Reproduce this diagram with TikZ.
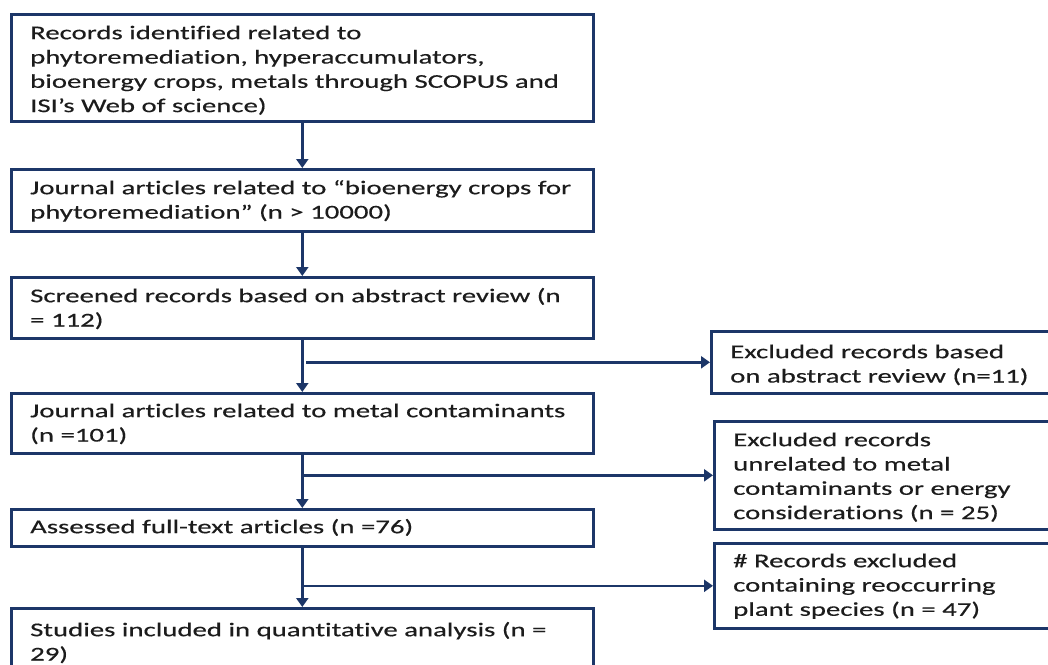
\documentclass[tikz,border=0pt]{standalone}
\usepackage{fontspec}
\setmainfont{Carlito}[FakeStretch=1.475,Ligatures=NoCommon,FakeBold=0.4]
\usetikzlibrary{arrows.meta,calc}
\definecolor{navy}{RGB}{28,54,104}
\definecolor{ink}{RGB}{28,28,28}
\newcommand{\topstrut}{\rule{0pt}{15pt}}
\begin{document}
\begin{tikzpicture}[x=1pt,y=-1pt,
  box/.style={draw=navy,line width=2.6pt,rectangle,inner sep=0pt,anchor=north west,fill=white},
  txt/.style={anchor=north west,inner sep=0pt,align=left,text=ink,
    font=\fontsize{19.5pt}{24.3pt}\selectfont},
  arr/.style={draw=navy,line width=2.6pt,-{Triangle[width=12pt,length=9pt]}}]
\useasboundingbox (0,0) rectangle (1048,664);
\clip (0,0) rectangle (1048,664);
\fill[white] (0,0) rectangle (1048,664);
% main column
\node[box,minimum width=582pt,minimum height=107pt] (b1) at (10,13) {};
\node[box,minimum width=582pt,minimum height=62pt] (b2) at (10,168) {};
\node[box,minimum width=582pt,minimum height=61pt] (b3) at (10,276) {};
\node[box,minimum width=582pt,minimum height=60pt] (b4) at (10,392) {};
\node[box,minimum width=582pt,minimum height=37pt] (b5) at (10,508) {};
\node[box,minimum width=582pt,minimum height=80pt] (b6) at (10,607) {};
% exclusion column
\node[box,minimum width=360pt,minimum height=62pt] (e1) at (710,330) {};
\node[box,minimum width=360pt,minimum height=108pt] (e2) at (713,420) {};
\node[box,minimum width=360pt,minimum height=85pt] (e3) at (713,542) {};
% texts
\node[txt] (t1) at ($(b1.north west)+(20,11)$) {\topstrut Records identified related to\\phytoremediation, hyperaccumulators,\\bioenergy crops, metals through SCOPUS and\\ISI’s Web of science)};
\node[txt] (t2) at ($(b2.north west)+(20,11)$) {\topstrut Journal articles related to “bioenergy crops for\\phytoremediation” (n > 10000)};
\node[txt] (t3) at ($(b3.north west)+(20,11)$) {\topstrut Screened records based on abstract review (n\\= 112)};
\node[txt] (t4) at ($(b4.north west)+(20,10)$) {\topstrut Journal articles related to metal contaminants\\(n =101)};
\node[txt] (t5) at ($(b5.north west)+(20,10)$) {\topstrut Assessed full-text articles (n =76)};
\node[txt] (t6) at ($(b6.north west)+(20,14)$) {\topstrut Studies included in quantitative analysis (n =\\29)};
\node[txt] (u1) at ($(e1.north west)+(20,13)$) {\topstrut Excluded records based\\on abstract review (n=11)};
\node[txt] (u2) at ($(e2.north west)+(20,11)$) {\topstrut Excluded records\\unrelated to metal\\contaminants or energy\\considerations (n = 25)};
\node[txt] (u3) at ($(e3.north west)+(20,10)$) {\topstrut\# Records excluded\\containing reoccurring\\plant species (n = 47)};
% connectors
\draw[arr] (b1.south) -- (b2.north);
\draw[arr] (b2.south) -- (b3.north);
\draw[arr] (b3.south) -- (b4.north);
\draw[arr] (b4.south) -- (b5.north);
\draw[arr] (b5.south) -- (b6.north);
\draw[arr] ($(b3.south |- e1.west)+(4,0)$) -- (e1.west);
\draw[arr] ($(b4.south |- e2.west)+(2,0)$) -- (e2.west);
\draw[arr] ($(b5.south |- e3.west)+(2,0)$) -- (e3.west);
\end{tikzpicture}
\end{document}
